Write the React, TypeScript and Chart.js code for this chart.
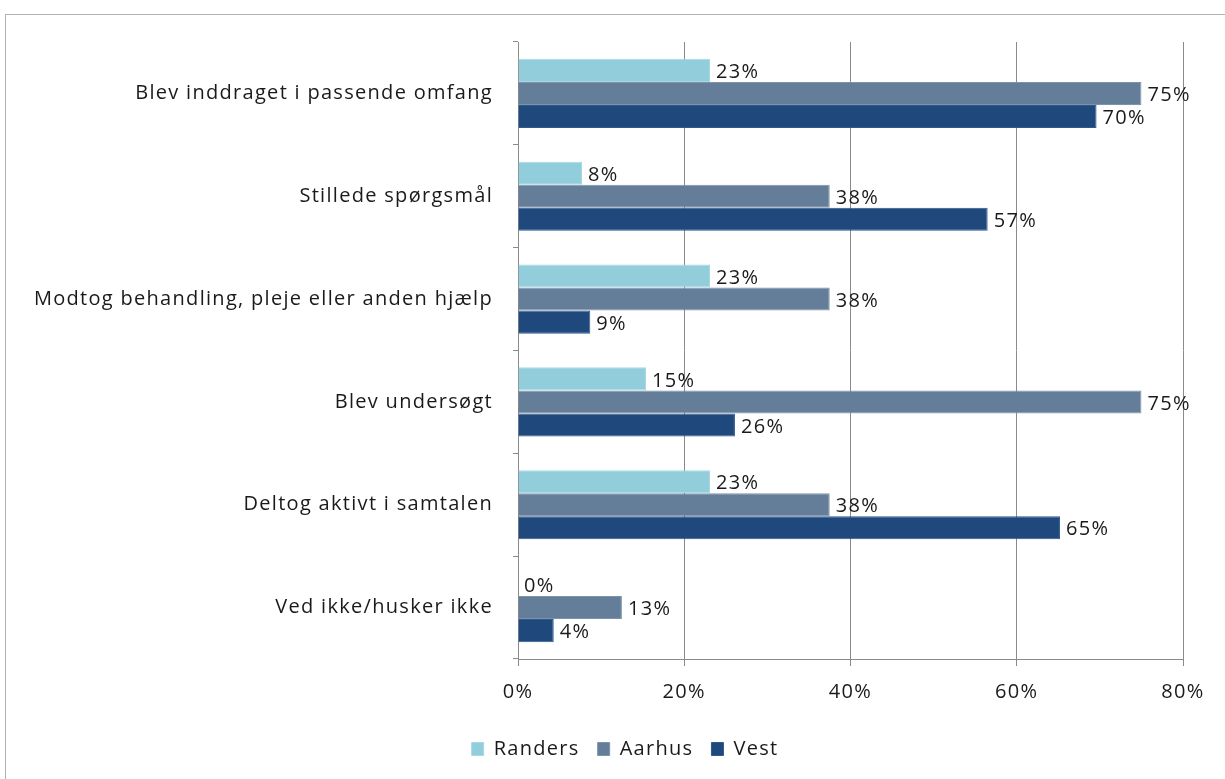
import React, { useEffect, useRef } from "react";
import { Chart, registerables } from "chart.js";

Chart.register(...registerables);

const categories = [
  "Blev inddraget i passende omfang",
  "Stillede spørgsmål",
  "Modtog behandling, pleje eller anden hjælp",
  "Blev undersøgt",
  "Deltog aktivt i samtalen",
  "Ved ikke/husker ikke",
];
const seriesNames = ["Randers", "Aarhus", "Vest"];
const randers = [23.1, 7.7, 23.1, 15.4, 23.1, 0];
const aarhus = [75, 37.5, 37.5, 75, 37.5, 12.5];
const vest = [69.6, 56.5, 8.7, 26.1, 65.2, 4.3];
const xTickValues = [0, 20, 40, 60, 80];

const FONT_FAMILY = "'Open Sans', sans-serif";
const FONT_SIZE = 20;
const LETTER_SPACING = "1.3px";
const TEXT_COLOR = "#1a1a1a";
const GRID_COLOR = "#8a8a8a";

const spacing = {
  id: "spacing",
  beforeDraw(chart: any) {
    try {
      chart.ctx.letterSpacing = LETTER_SPACING;
    } catch (e) {}
  },
};

const valueLabels = {
  id: "valueLabels",
  afterDatasetsDraw(chart: any) {
    const ctx = chart.ctx;
    ctx.save();
    ctx.font = `${FONT_SIZE}px ${FONT_FAMILY}`;
    ctx.fillStyle = TEXT_COLOR;
    ctx.textAlign = "left";
    ctx.textBaseline = "middle";
    chart.data.datasets.forEach((ds: any, i: number) => {
      const meta = chart.getDatasetMeta(i);
      meta.data.forEach((el: any, j: number) => {
        const v = ds.data[j];
        ctx.fillText(Math.round(v) + "%", el.x + 6, el.y + 2);
      });
    });
    ctx.restore();
  },
};

const legendShift = {
  id: "legendShift",
  afterLayout(chart: any) {
    const l = chart.legend;
    if (l) {
      l.right = l.left + 1216;
    }
  },
};

export default function App() {
  const ref = useRef<HTMLCanvasElement | null>(null);
  useEffect(() => {
    if (!ref.current) return;
    const chart = new Chart(ref.current, {
      type: "bar",
      data: {
        labels: categories,
        datasets: [
          {
            label: seriesNames[0],
            data: randers,
            backgroundColor: "#92cddc",
            borderColor: "#a8d8e4",
            borderWidth: 1,
          },
          {
            label: seriesNames[1],
            data: aarhus,
            backgroundColor: "#647d99",
            borderColor: "#7d93ac",
            borderWidth: 1,
          },
          {
            label: seriesNames[2],
            data: vest,
            backgroundColor: "#1f497d",
            borderColor: "#2f5a8d",
            borderWidth: 1,
          },
        ],
      },
      plugins: [spacing, valueLabels, legendShift],
      options: {
        indexAxis: "y",
        responsive: false,
        animation: false,
        devicePixelRatio: 1,
        layout: { padding: { top: 27, right: 42, left: 0, bottom: 3 } },
        datasets: {
          bar: { categoryPercentage: 0.672, barPercentage: 1.0 },
        },
        scales: {
          x: {
            min: 0,
            max: 80,
            afterBuildTicks(scale: any) {
              scale.ticks = xTickValues.map((v) => ({ value: v }));
            },
            afterFit(scale: any) {
              scale.height = 62;
            },
            grid: {
              color: GRID_COLOR,
              lineWidth: 1,
              drawTicks: true,
              tickLength: 7,
            },
            border: { color: GRID_COLOR, width: 1 },
            ticks: {
              callback: (v: any) => v + "%",
              color: TEXT_COLOR,
              font: { family: FONT_FAMILY, size: FONT_SIZE },
              padding: 14,
            },
          },
          y: {
            afterFit(scale: any) {
              scale.width = 512;
              scale.paddingTop = 0;
              scale.paddingBottom = 0;
            },
            grid: {
              drawOnChartArea: false,
              drawTicks: true,
              tickLength: 5,
              color: GRID_COLOR,
              offset: true,
            },
            border: { color: GRID_COLOR, width: 1 },
            ticks: {
              color: TEXT_COLOR,
              font: { family: FONT_FAMILY, size: FONT_SIZE },
              padding: 20,
            },
          },
        },
        plugins: {
          legend: {
            position: "bottom",
            labels: {
              boxWidth: 12,
              boxHeight: 13,
              padding: 18,
              color: TEXT_COLOR,
              font: { family: FONT_FAMILY, size: FONT_SIZE },
            },
          },
          tooltip: { enabled: false },
        },
      },
    });
    return () => chart.destroy();
  }, []);

  return (
    <div
      style={{
        position: "absolute",
        left: 5,
        top: 14,
        width: 1219,
        height: 764,
        borderTop: "1px solid #b3b3b3",
        borderLeft: "1px solid #b3b3b3",
        background: "#ffffff",
      }}
    >
      <canvas ref={ref} width={1219} height={757} style={{ display: "block" }} />
    </div>
  );
}
